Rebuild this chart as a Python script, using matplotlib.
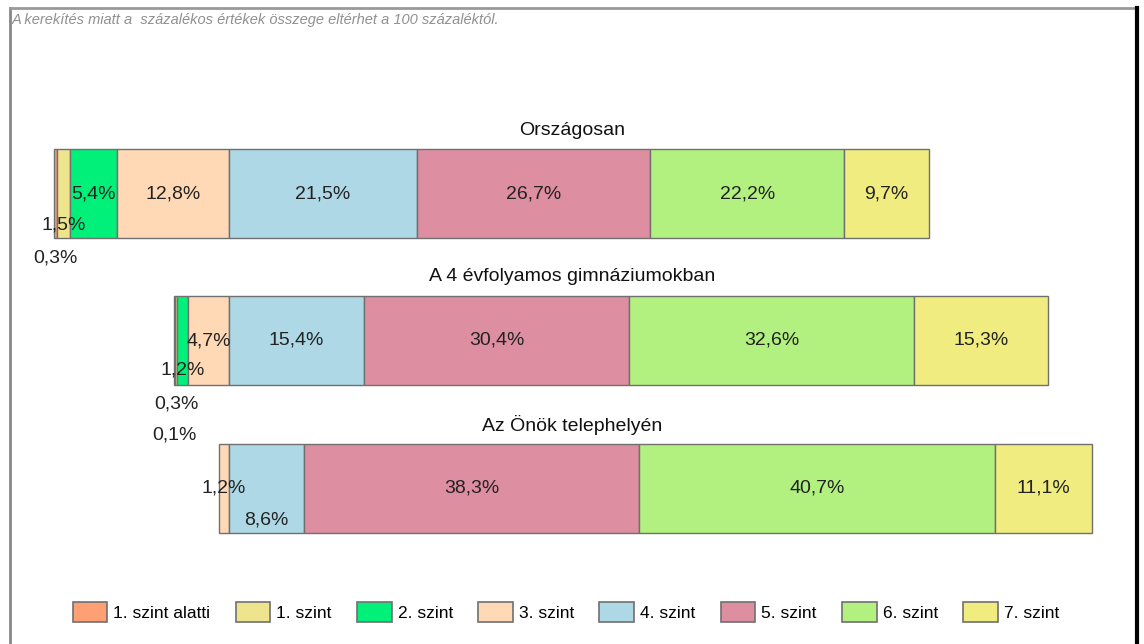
import matplotlib.pyplot as plt
from matplotlib.patches import Patch
from matplotlib.lines import Line2D

plt.rcParams['font.family'] = ['Liberation Sans', 'DejaVu Sans']

levels = ['1. szint alatti', '1. szint', '2. szint', '3. szint',
          '4. szint', '5. szint', '6. szint', '7. szint']
colors = ['#FF9F74', '#EFE48E', '#00F07A', '#FFD9B6',
          '#AED8E6', '#DD8EA0', '#B2F080', '#F0EC80']

groups = ['Országosan', 'A 4 évfolyamos gimnáziumokban', 'Az Önök telephelyén']
orszagos = [0.3, 1.5, 5.4, 12.8, 21.5, 26.7, 22.2, 9.7]
gimnazium = [0.1, 0.3, 1.2, 4.7, 15.4, 30.4, 32.6, 15.3]
telephely = [0, 0, 0, 1.2, 8.6, 38.3, 40.7, 11.1]
data = [orszagos, gimnazium, telephely]

# layout (pixel-ish units on y)
ycent = [193.5, 340, 488]
bar_h = 89
# label y offsets from bar centre (staggered small labels)
offs = [[64, 31, 0, 0, 0, 0, 0, 0],
        [95, 64, 30, 1, 0, 0, 0, 0],
        [0, 0, 0, 0, 32, 0, 0, 0]]

px = 8.74  # pixels per percent
fig = plt.figure(figsize=(11.44, 6.44), dpi=100)
ax = fig.add_axes([0, 0, 1, 1])
ax.set_xlim(-229 / px, (1144 - 229) / px)
ax.set_ylim(644, 0)
ax.axis('off')

for g, vals in enumerate(data):
    left = -sum(vals[:4])  # bars aligned at the 3./4. szint boundary
    for k, v in enumerate(vals):
        if v > 0:
            ax.barh(ycent[g], v, left=left, height=bar_h, color=colors[k],
                    edgecolor='#707070', linewidth=1)
            lab = ('%.1f%%' % v).replace('.', ',')
            ax.text(left + v / 2, ycent[g] + offs[g][k], lab, ha='center',
                    va='center', fontsize=14, color='#222222')
        left += v
    ax.text(0.5, ycent[g] - bar_h / 2 - 19, groups[g], ha='center', va='center',
            fontsize=14, color='#111111', transform=ax.get_yaxis_transform())

fig.text(12 / 1144, 1 - 20 / 644,
         'A kerekítés miatt a  százalékos értékek összege eltérhet a 100 százaléktól.',
         fontsize=10.5, style='italic', color='#909090', va='center', ha='left')

# frame around the chart
fig.add_artist(Line2D([9.5 / 1144, 9.5 / 1144], [0, 1 - 8 / 644], color='#888888', lw=2))
fig.add_artist(Line2D([9.5 / 1144, 1137 / 1144], [1 - 8 / 644, 1 - 8 / 644], color='#999999', lw=2))
fig.add_artist(Line2D([1137 / 1144, 1137 / 1144], [0, 1 - 8 / 644], color='black', lw=3))

handles = [Patch(facecolor=c, edgecolor='#707070', linewidth=1.2) for c in colors]
fig.legend(handles, levels, loc='center', bbox_to_anchor=(566 / 1144, 1 - 612 / 644),
           ncol=8, frameon=False, fontsize=12.5, handlelength=2.0, handleheight=1.4,
           columnspacing=1.45, handletextpad=0.35, borderpad=0)

fig.savefig('out.png', dpi=100)
